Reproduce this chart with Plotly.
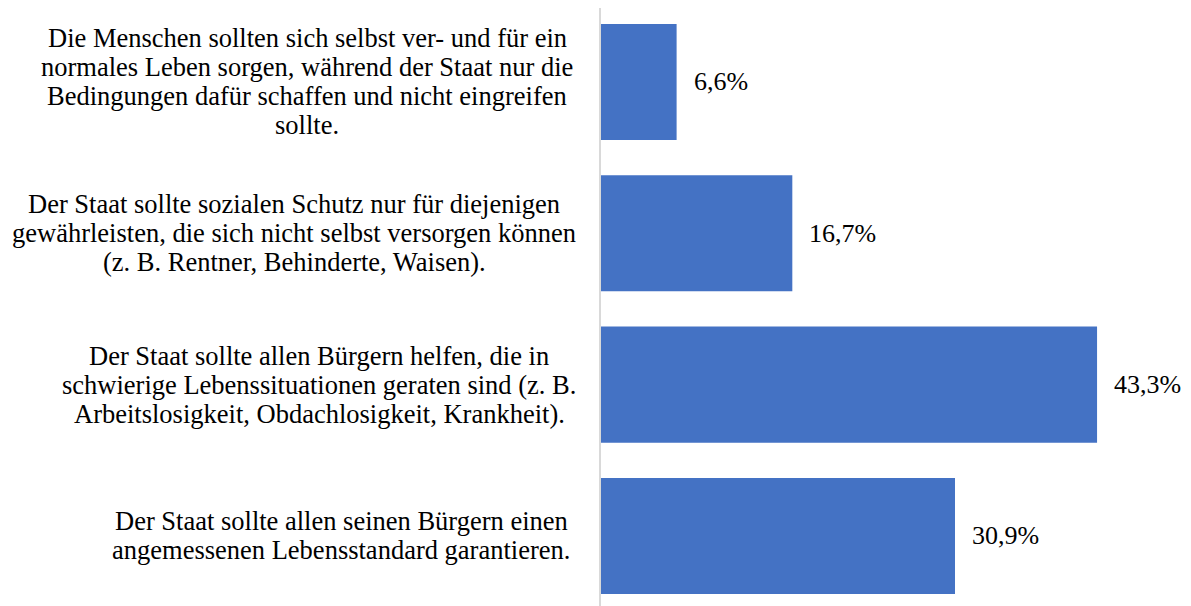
import plotly.graph_objects as go

categories = [
    "Die Menschen sollten sich selbst ver- und für ein<br>normales Leben sorgen, während der Staat nur die<br>Bedingungen dafür schaffen und nicht eingreifen<br>sollte.",
    "Der Staat sollte sozialen Schutz nur für diejenigen<br>gewährleisten, die sich nicht selbst versorgen können<br>(z. B. Rentner, Behinderte, Waisen).",
    "Der Staat sollte allen Bürgern helfen, die in<br>schwierige Lebenssituationen geraten sind (z. B.<br>Arbeitslosigkeit, Obdachlosigkeit, Krankheit).",
    "Der Staat sollte allen seinen Bürgern einen<br>angemessenen Lebensstandard garantieren.",
]
values = [6.6, 16.7, 43.3, 30.9]
value_labels = ["6,6%", "16,7%", "43,3%", "30,9%"]

# layout/style constants (page has an 8px body margin)
FONT = "Liberation Serif, Times New Roman, serif"
FSIZE = 26.5
VSIZE = 26
LINE_H = 29          # px between label lines
W, H = 1183, 598
ML, MR, MT, MB = 593, 0, 0, 0
label_centers_px = [299, 286, 311, 333]   # horizontal centre of each label block

positions = list(range(len(categories)))

fig = go.Figure()
fig.add_trace(go.Bar(
    x=values,
    y=positions,
    orientation="h",
    marker=dict(color="#4472C4", line=dict(width=0)),
    hoverinfo="skip",
))

plot_w = W - ML - MR
annotations = []
for p, cat, v, lab, cx in zip(positions, categories, values, value_labels, label_centers_px):
    lines = cat.split("<br>")
    n = len(lines)
    for i, line in enumerate(lines):
        annotations.append(dict(
            x=(cx - ML) / plot_w, y=p, xref="paper", yref="y", text=line,
            showarrow=False, xanchor="center", yanchor="middle",
            yshift=-(i - (n - 1) / 2) * LINE_H,
            font=dict(family=FONT, size=FSIZE, color="#000000"),
        ))
    annotations.append(dict(
        x=v, y=p, xref="x", yref="y", text=lab, showarrow=False,
        xanchor="left", yanchor="middle", xshift=15,
        font=dict(family=FONT, size=VSIZE, color="#000000"),
    ))

fig.update_layout(
    width=W, height=H,
    margin=dict(l=ML, r=MR, t=MT, b=MB, autoexpand=False),
    paper_bgcolor="white", plot_bgcolor="white",
    showlegend=False,
    bargap=0.233,
    annotations=annotations,
    font=dict(family=FONT),
    xaxis=dict(range=[0, 51.5], visible=False, showgrid=False, zeroline=False),
    yaxis=dict(range=[3.463, -0.489], showticklabels=False, showgrid=False,
               zeroline=False, showline=True, linecolor="#d9d9d9", linewidth=1.5,
               ticks=""),
)

fig.write_html("out.html")
